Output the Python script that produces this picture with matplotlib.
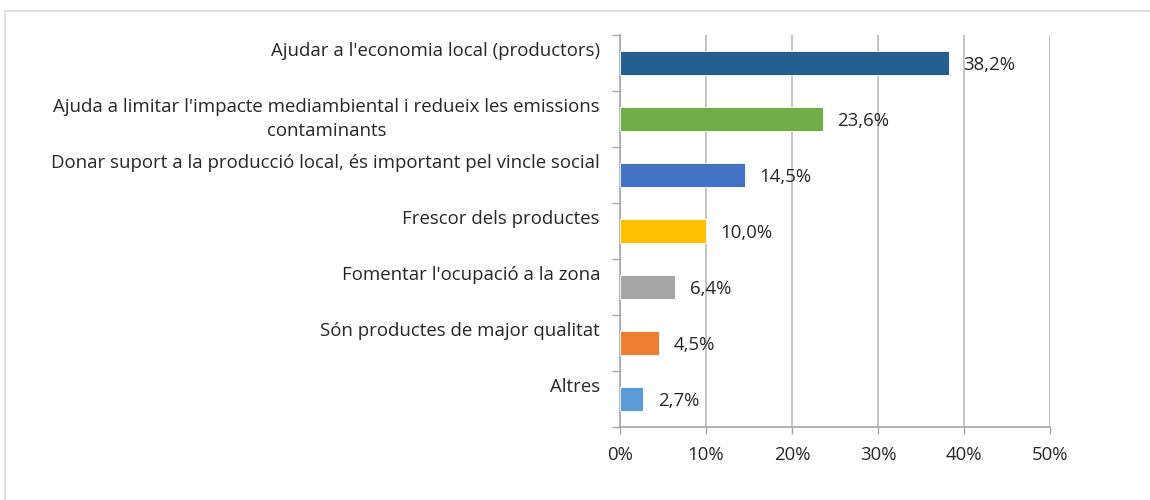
import numpy as np
import matplotlib
matplotlib.use("Agg")
import matplotlib.pyplot as plt
import matplotlib.transforms as mtransforms
from matplotlib.patches import Rectangle

categories = ["Ajudar a l'economia local (productors)",
              "Ajuda a limitar l'impacte mediambiental i redueix les emissions\ncontaminants",
              "Donar suport a la producció local, és important pel vincle social",
              "Frescor dels productes",
              "Fomentar l'ocupació a la zona",
              "Són productes de major qualitat",
              "Altres"]
values = [38.2, 23.6, 14.5, 10.0, 6.4, 4.5, 2.7]
colors = ["#255E91", "#70AD47", "#4472C4", "#FFC000", "#A5A5A5", "#ED7D31", "#5B9BD5"]
xticks = [0, 10, 20, 30, 40, 50]

plt.rcParams['font.family'] = ['Open Sans', 'DejaVu Sans']
fs = 13.4

fig = plt.figure(figsize=(11.5, 5), dpi=100)
ax = fig.add_axes([620/1150, 1-427/500, 430/1150, 392/500])

# outer frame
fig.patches.append(Rectangle((5/1150, -0.05), 1.2, 1-11/500+0.05, transform=fig.transFigure,
                             fill=False, edgecolor="#d9d9d9", linewidth=1.2))

y = np.arange(len(categories))
ax.barh(y, values, height=0.43, color=colors, edgecolor="white", linewidth=0.6, zorder=3)
ax.set_ylim(len(categories) - 0.5, -0.5)
ax.set_xlim(0, 50)

for yi, v in zip(y, values):
    ax.text(v + 1.7, yi + 0.03, ("%.1f%%" % v).replace(".", ","), va="center", ha="left",
            fontsize=fs, color="#262626")

# category labels, Excel style sitting a bit high
for yi, c in zip(y, categories):
    dy = 0 if "\n" in c else 12 / 100 * 72
    tr = mtransforms.blended_transform_factory(ax.transAxes, ax.transData) + \
        mtransforms.ScaledTranslation(-20/100, dy/72, fig.dpi_scale_trans)
    ax.text(0, yi, c, transform=tr, ha="right", va="center", fontsize=fs,
            color="#262626", linespacing=1.45, multialignment="center")

ax.set_yticks(np.arange(-0.5, len(categories), 1))
ax.set_yticklabels([])
ax.set_xticks(xticks)
ax.set_xticklabels(["%d%%" % t for t in xticks], fontsize=fs, color="#262626")
ax.tick_params(axis="y", length=6, color="#a6a6a6", width=1)
ax.tick_params(axis="x", length=5, color="#a6a6a6", width=1, pad=9)
ax.grid(axis="x", color="#bfbfbf", linewidth=1.3, zorder=0)
for s in ["top", "right"]:
    ax.spines[s].set_visible(False)
for s in ["left", "bottom"]:
    ax.spines[s].set_color("#a6a6a6")
    ax.spines[s].set_linewidth(1.2)

fig.savefig("out.png", dpi=100)
